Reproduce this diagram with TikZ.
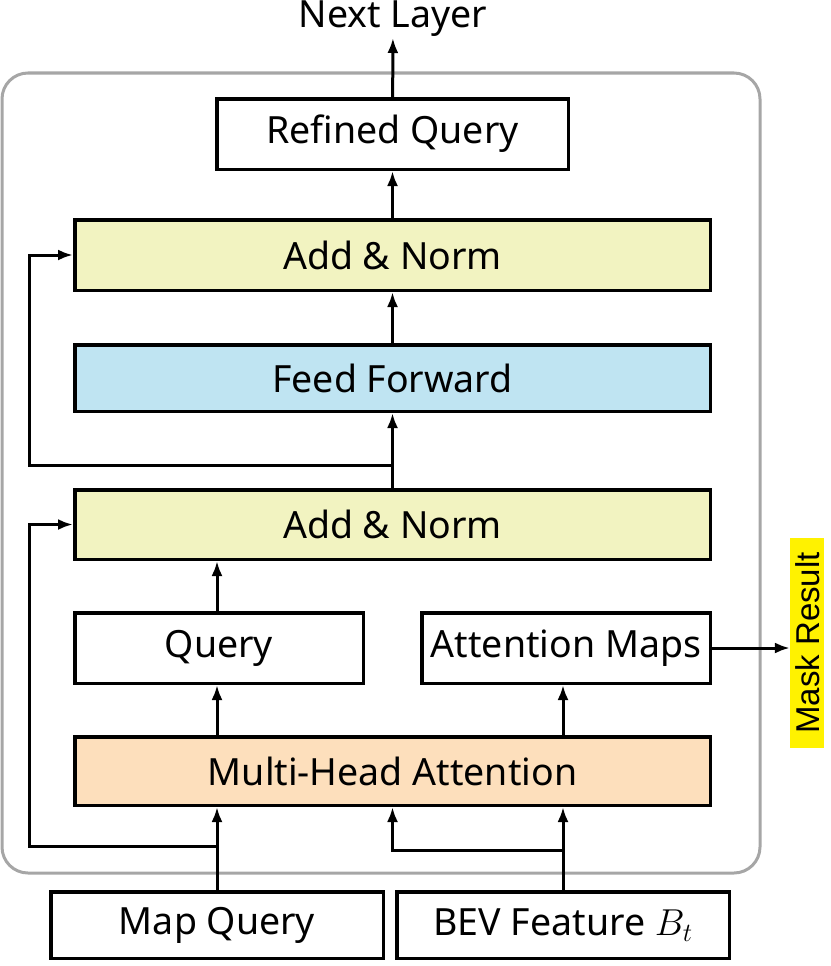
\RequirePackage{fix-cm}
\documentclass[tikz,border=0pt]{standalone}
\usepackage{fontspec}
\setmainfont{Noto Sans}
\newfontfamily\maskfont{Liberation Sans}
\usepackage{xcolor}
\usetikzlibrary{arrows.meta, positioning, calc}

\definecolor{normyellow}{RGB}{242,243,193}
\definecolor{ffblue}{RGB}{191,228,242}
\definecolor{mhaorange}{RGB}{253,223,188}

\begin{document}
\begin{tikzpicture}[
    x=1pt, y=1pt,
    every node/.style={font=\fontsize{37.5}{44}\selectfont},
    block/.style={rectangle, draw=black, line width=3.5pt, minimum height=70.5pt, inner sep=0pt, align=center, fill=white},
    smallbox/.style={block, minimum width=288.5pt},
    wide/.style={block, minimum width=635.5pt},
    frame/.style={draw=black!35, line width=3pt, rounded corners=26pt},
    line/.style={draw=black, line width=3pt},
    arr/.style={line, -{Latex[length=15pt, width=11pt]}}
]
    \useasboundingbox (0,0) rectangle (830,-966);
    \draw[frame] (2,-73) rectangle (760,-873);
    \coordinate (rail) at (29,0);

    \node[block, minimum width=351.5pt] (refined) at (392.5,-134) {Refined Query};
    \node[anchor=south, inner sep=1pt] (next) at (393,-38) {Next Layer};
    \node[wide, fill=normyellow, below=47pt of refined] (norm2) {Add \& Norm};
    \node[wide, fill=ffblue, minimum height=66.5pt, below=51pt of norm2] (ffn) {Feed Forward};
    \node[wide, fill=normyellow, minimum height=69.5pt, below=75pt of ffn] (norm1) {Add \& Norm};
    \node[smallbox, below=50pt of norm1.south west, anchor=north west] (query) {Query};
    \node[smallbox, below=50pt of norm1.south east, anchor=north east] (maps) {Attention Maps};
    \node[wide, fill=mhaorange, minimum height=68.5pt, below=50pt of query.south west, anchor=north west] (mha) {Multi-Head Attention};
    \node[block, minimum width=332.5pt, minimum height=66.5pt, below=83pt of mha.south west, anchor=north west, xshift=-24pt] (mapq) {Map Query};
    \node[block, minimum width=332.5pt, minimum height=66.5pt, right=10pt of mapq] (bev) {BEV Feature $B_t$};
    \node[rotate=90, anchor=base, fill=yellow, inner xsep=14pt, inner ysep=5pt, font=\maskfont\fontsize{33}{40}\selectfont] (mask) at (819,-643) {Mask Result};

    \coordinate (skip2) at ($(norm1.north)+(0,23)$);
    \coordinate (skip1) at ($(mapq.north)+(0,44)$);
    \coordinate (split) at ($(bev.north)+(0,40)$);

    % Connectors
    \draw[arr] (refined) -- (next);
    \draw[arr] (norm2) -- (refined);
    \draw[arr] (ffn) -- (norm2);
    \draw[arr] (norm1) -- (ffn);
    \draw[arr] (skip2) -- (skip2 -| rail) |- (norm2.west);
    \draw[arr] (query.north -| mapq) -- (norm1.south -| mapq);
    \draw[arr] (mha.north -| mapq) -- (query.south -| mapq);
    \draw[arr] (mha.north -| bev) -- (maps.south -| bev);
    \draw[arr] (maps) -- (maps -| mask.north);
    \draw[arr] (mapq) -- (mapq |- mha.south);
    \draw[arr] (skip1) -- (skip1 -| rail) |- (norm1.west);
    \draw[arr] (bev) -- (bev |- mha.south);
    \draw[arr] (split) -| (mha.south);
\end{tikzpicture}
\end{document}
